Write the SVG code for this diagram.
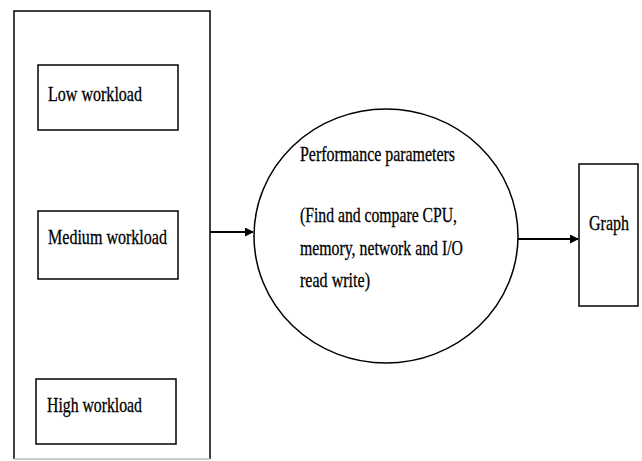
<svg xmlns="http://www.w3.org/2000/svg" width="642" height="461" viewBox="0 0 642 461">
<style>
.box{fill:none;stroke:#000;stroke-width:1.5}
.t{font-family:"Liberation Serif","Times New Roman",serif;font-size:21px;fill:#000;stroke:#000;stroke-width:0.3}
.edge{stroke:#000;stroke-width:2;fill:none}
</style>
<defs>
<marker id="ah" markerWidth="9" markerHeight="9" refX="8" refY="4.5" orient="auto" markerUnits="userSpaceOnUse">
<path d="M0,0 L9,4.5 L0,9 Z" fill="#000"/>
</marker>
</defs>
<rect width="642" height="461" fill="#fff"/>
<g id="container">
<path class="box" d="M14,459 L14,11 L210,11 L210,459"/>
<line x1="14" y1="459" x2="210" y2="459" stroke="#bbb" stroke-width="1.5"/>
</g>
<g id="low">
<rect class="box" x="38" y="65" width="140" height="65"/>
<text class="t" x="48" y="101" textLength="94" lengthAdjust="spacingAndGlyphs">Low workload</text>
</g>
<g id="medium">
<rect class="box" x="38" y="211" width="140" height="68"/>
<text class="t" x="48" y="244" textLength="119" lengthAdjust="spacingAndGlyphs">Medium workload</text>
</g>
<g id="high">
<rect class="box" x="36" y="379" width="140" height="65"/>
<text class="t" x="47" y="412" textLength="95" lengthAdjust="spacingAndGlyphs">High workload</text>
</g>
<g id="perf">
<ellipse class="box" cx="386" cy="236" rx="132" ry="127"/>
<text class="t" x="300" y="161" textLength="155" lengthAdjust="spacingAndGlyphs">Performance parameters</text>
<text class="t" x="300" y="222" textLength="157" lengthAdjust="spacingAndGlyphs">(Find and compare CPU,</text>
<text class="t" x="300" y="255" textLength="163" lengthAdjust="spacingAndGlyphs">memory, network and I/O</text>
<text class="t" x="300" y="287" textLength="70" lengthAdjust="spacingAndGlyphs">read write)</text>
</g>
<g id="graph">
<rect class="box" x="579" y="164" width="59" height="142"/>
<text class="t" x="589" y="230" textLength="40" lengthAdjust="spacingAndGlyphs">Graph</text>
</g>
<g id="connectors">
<line class="edge" x1="210" y1="232" x2="253" y2="232" marker-end="url(#ah)"/>
<line class="edge" x1="518" y1="239" x2="578" y2="239" marker-end="url(#ah)"/>
</g>
</svg>
